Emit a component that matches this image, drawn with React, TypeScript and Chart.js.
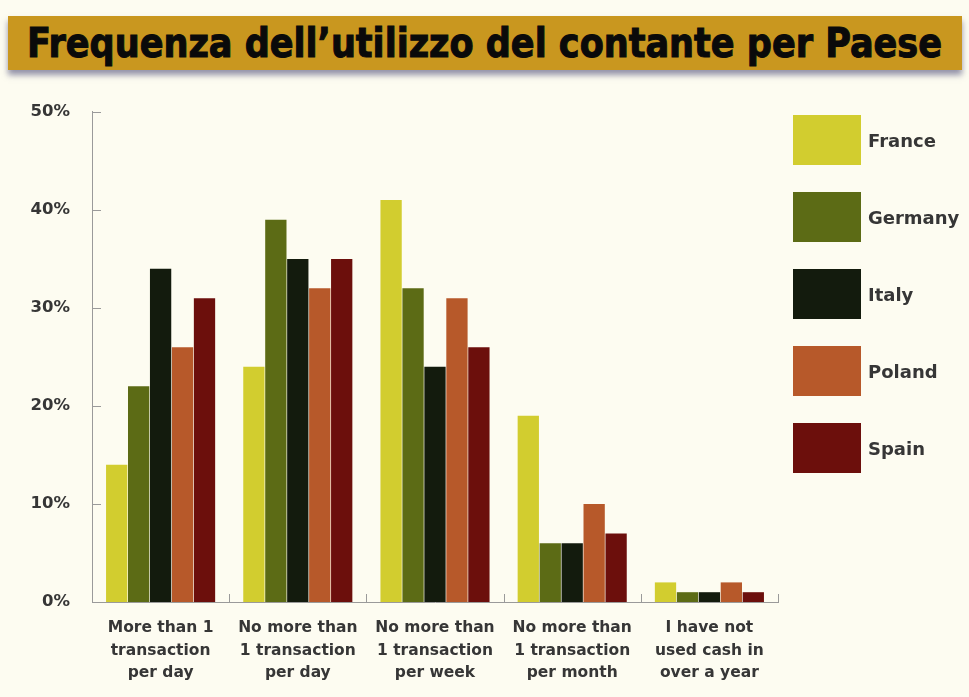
import React, { useEffect, useRef, useLayoutEffect, useState } from "react";
import { Chart, registerables } from "chart.js";

Chart.register(...registerables);

const TITLE = "Frequenza dell’utilizzo del contante per Paese";
const categories: string[][] = [
  ["More than 1", "transaction", "per day"],
  ["No more than", "1 transaction", "per day"],
  ["No more than", "1 transaction", "per week"],
  ["No more than", "1 transaction", "per month"],
  ["I have not", "used cash in", "over a year"],
];
const countries = ["France", "Germany", "Italy", "Poland", "Spain"];
const france = [14, 24, 41, 19, 2];
const germany = [22, 39, 32, 6, 1];
const italy = [34, 35, 24, 6, 1];
const poland = [26, 32, 31, 10, 2];
const spain = [31, 35, 26, 7, 1];
const colors = ["#d2cd2f", "#5c6b15", "#131b0d", "#b7592a", "#6c0f0c"];
const yTicks = [0, 10, 20, 30, 40, 50];

const FONT = "'DejaVu Sans', sans-serif";
const TEXT = "#363636";

const innerTicks = {
  id: "innerTicks",
  afterDraw(chart: any) {
    const { ctx, chartArea, scales } = chart;
    const y = scales.y;
    const x = scales.x;
    ctx.save();
    ctx.strokeStyle = "#9a9a9a";
    ctx.lineWidth = 1;
    yTicks.forEach((v) => {
      const py = Math.round(y.getPixelForValue(v)) + 0.5;
      ctx.beginPath();
      ctx.moveTo(chartArea.left, py);
      ctx.lineTo(chartArea.left + 9, py);
      ctx.stroke();
    });
    const n = categories.length;
    for (let i = 0; i <= n; i++) {
      const px =
        i === 0
          ? chartArea.left
          : i === n
          ? chartArea.right
          : (x.getPixelForValue(i - 1) + x.getPixelForValue(i)) / 2;
      const rx = Math.round(px) + 0.5;
      ctx.beginPath();
      ctx.moveTo(rx, chartArea.bottom);
      ctx.lineTo(rx, chartArea.bottom - 8);
      ctx.stroke();
    }
    ctx.restore();
  },
};

export default function App() {
  const ref = useRef<HTMLCanvasElement>(null);
  const titleRef = useRef<HTMLSpanElement>(null);
  const [scale, setScale] = useState(1);

  useLayoutEffect(() => {
    if (titleRef.current) {
      const w = titleRef.current.getBoundingClientRect().width;
      if (w > 0) setScale(915 / w);
    }
  }, []);

  useEffect(() => {
    if (!ref.current) return;
    const series = [france, germany, italy, poland, spain];
    const chart = new Chart(ref.current, {
      type: "bar",
      data: {
        labels: categories,
        datasets: countries.map((c, i) => ({
          label: c,
          data: series[i],
          backgroundColor: colors[i],
          borderWidth: 0,
          barPercentage: 0.97,
          categoryPercentage: 0.8,
        })),
      },
      options: {
        animation: false,
        responsive: false,
        maintainAspectRatio: false,
        layout: { padding: { top: 27, right: 191, bottom: 0, left: 0 } },
        plugins: {
          legend: { display: false },
          tooltip: { enabled: false },
        },
        scales: {
          x: {
            grid: { display: false, drawTicks: false },
            border: { display: true, color: "#9a9a9a", width: 1 },
            ticks: {
              color: TEXT,
              font: { family: FONT, weight: "bold", size: 15.5, lineHeight: 1.45 },
              padding: 15,
              maxRotation: 0,
              autoSkip: false,
            },
            afterFit(scale: any) {
              scale.height = 95;
            },
          },
          y: {
            min: 0,
            max: 50,
            grid: { display: false, drawTicks: false },
            border: { display: true, color: "#9a9a9a", width: 1 },
            ticks: {
              stepSize: 10,
              color: TEXT,
              font: { family: FONT, weight: "bold", size: 16.5 },
              padding: 22,
              callback: (v: any) => v + "%",
            },
            afterFit(scale: any) {
              scale.width = 92;
            },
          },
        },
      },
      plugins: [innerTicks],
    });
    return () => chart.destroy();
  }, []);

  return (
    <div
      style={{
        position: "fixed",
        left: 0,
        top: 0,
        width: 969,
        height: 697,
        background: "#fdfcf1",
        overflow: "hidden",
      }}
    >
      <div
        style={{
          position: "absolute",
          left: 8,
          top: 16,
          width: 954,
          height: 54,
          background: "#c9971f",
          boxShadow: "0 5px 6px rgba(60,60,110,0.55)",
          display: "flex",
          alignItems: "center",
          justifyContent: "center",
        }}
      >
        <span
          ref={titleRef}
          style={{
            fontFamily: "'DejaVu Sans Condensed', 'DejaVu Sans', sans-serif",
            fontWeight: 700,
            fontSize: 40,
            color: "#0a0a0a",
            whiteSpace: "nowrap",
            display: "inline-block",
            transform: `scaleX(${scale})`,
            transformOrigin: "center",
            WebkitTextStroke: "1px #0a0a0a",
          }}
        >
          {TITLE}
        </span>
      </div>
      <canvas
        ref={ref}
        width={969}
        height={617}
        style={{ position: "absolute", left: 0, top: 80, width: 969, height: 617 }}
      />
      <div style={{ position: "absolute", left: 793, top: 115 }}>
        {countries.map((c, i) => (
          <div
            key={c}
            style={{ display: "flex", alignItems: "center", height: 50, marginBottom: 27 }}
          >
            <div style={{ width: 68, height: 50, background: colors[i] }} />
            <span
              style={{
                marginLeft: 7,
                fontFamily: FONT,
                fontWeight: 700,
                fontSize: 18,
                color: TEXT,
              }}
            >
              {c}
            </span>
          </div>
        ))}
      </div>
    </div>
  );
}
